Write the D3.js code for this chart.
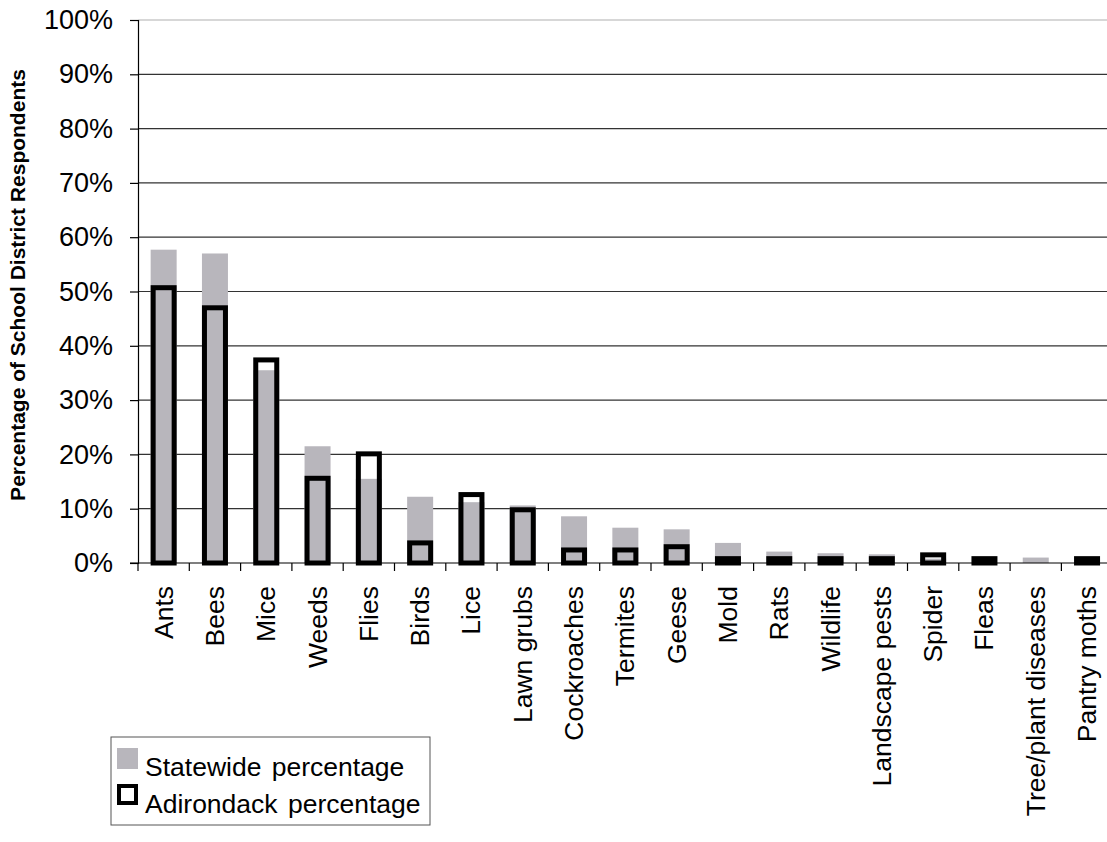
<!DOCTYPE html>
<html>
<head>
<meta charset="utf-8">
<script src="https://cdn.jsdelivr.net/npm/d3@7"></script>
<style>
  body { margin: 0; background: #fff; }
  text { font-family: "Liberation Sans", Arial, sans-serif; }
</style>
</head>
<body>
<div id="chart"></div>
<script>
var categories = ["Ants", "Bees", "Mice", "Weeds", "Flies", "Birds", "Lice", "Lawn grubs",
  "Cockroaches", "Termites", "Geese", "Mold", "Rats", "Wildlife", "Landscape pests",
  "Spider", "Fleas", "Tree/plant diseases", "Pantry moths"];
var statewide = [57.7, 57.0, 35.5, 21.5, 15.5, 12.2, 11.2, 10.6, 8.6, 6.5, 6.2, 3.7, 2.1, 1.8, 1.6, 0.8, 0, 1.0, 0];
var adirondack = [50.7, 47.0, 37.4, 15.6, 20.1, 3.7, 12.6, 9.8, 2.4, 2.4, 3.0, 0.8, 0.8, 0.8, 0.8, 1.5, 0.8, 0, 0.8];
var yTicks = [0, 10, 20, 30, 40, 50, 60, 70, 80, 90, 100];
var legendLabels = ["Statewide percentage", "Adirondack percentage"];

var W = 1107, H = 842;
var plotLeft = 138, plotTop = 20, plotBottom = 563;

var svg = d3.select("#chart")
  .append("svg")
    .attr("width", W)
    .attr("height", H);

var x = d3.scaleBand()
  .domain(categories)
  .range([plotLeft, plotLeft + 19 * 51.3]);

var y = d3.scaleLinear()
  .domain([0, 100])
  .range([plotBottom, plotTop]);

// gridlines
svg.append("g")
  .selectAll("line")
  .data(yTicks.filter(function (d) { return d > 0; }))
  .enter()
  .append("line")
    .attr("x1", plotLeft)
    .attr("x2", W)
    .attr("y1", function (d) { return y(d); })
    .attr("y2", function (d) { return y(d); })
    .attr("stroke", function (d) { return d === 100 ? "#b0b0b0" : "#333"; })
    .attr("stroke-width", 1.2);

var bw = 26;
function cx(i) { return x(categories[i]) + x.bandwidth() / 2; }

// statewide bars
svg.append("g")
  .selectAll("rect")
  .data(statewide)
  .enter()
  .append("rect")
    .attr("x", function (d, i) { return cx(i) - bw / 2; })
    .attr("y", function (d) { return y(d); })
    .attr("width", bw)
    .attr("height", function (d) { return y(0) - y(d); })
    .attr("fill", "#b8b6bc");

// adirondack outlined bars
svg.append("g")
  .selectAll("rect")
  .data(adirondack)
  .enter()
  .append("rect")
    .attr("x", function (d, i) { return cx(i) - (bw - 5) / 2; })
    .attr("y", function (d) { return y(d); })
    .attr("width", bw - 5)
    .attr("height", function (d) { return y(0) - y(d); })
    .attr("fill", "none")
    .attr("stroke", "#000")
    .attr("stroke-width", function (d) { return d > 0 ? 5 : 0; });

// y axis
var yAxis = svg.append("g")
  .attr("transform", "translate(" + plotLeft + ",0)")
  .call(d3.axisLeft(y).tickValues(yTicks).tickSize(8).tickPadding(17)
    .tickFormat(function (d) { return d + "%"; }));
yAxis.select(".domain").attr("stroke", "#000").attr("stroke-width", 1.2);
yAxis.selectAll(".tick line").attr("stroke", "#000").attr("stroke-width", 1.2);
yAxis.selectAll(".tick text")
  .attr("font-size", 27)
  .attr("font-family", "Liberation Sans, Arial, sans-serif")
  .attr("fill", "#000");

// x axis baseline + ticks at band edges
var xAxis = svg.append("g");
xAxis.append("line")
  .attr("x1", plotLeft - 8)
  .attr("x2", W)
  .attr("y1", y(0))
  .attr("y2", y(0))
  .attr("stroke", "#000")
  .attr("stroke-width", 1.2);
xAxis.selectAll(".xt")
  .data(categories)
  .enter()
  .append("line")
    .attr("x1", function (d) { return x(d); })
    .attr("x2", function (d) { return x(d); })
    .attr("y1", y(0))
    .attr("y2", y(0) + 8)
    .attr("stroke", "#000")
    .attr("stroke-width", 1.2);
xAxis.selectAll(".xl")
  .data(categories)
  .enter()
  .append("text")
    .attr("transform", function (d) {
      return "translate(" + (x(d) + x.bandwidth() / 2 + 9) + "," + 586 + ") rotate(-90)";
    })
    .attr("text-anchor", "end")
    .attr("font-size", 26.5)
    .attr("fill", "#000")
    .text(function (d) { return d; });

// y title
svg.append("text")
  .attr("transform", "translate(25,285) rotate(-90)")
  .attr("text-anchor", "middle")
  .attr("font-size", 21)
  .attr("font-weight", "bold")
  .attr("fill", "#000")
  .text("Percentage of School District Respondents");

// legend
var lg = svg.append("g");
lg.append("rect")
  .attr("x", 111).attr("y", 737)
  .attr("width", 319).attr("height", 88)
  .attr("fill", "#fff")
  .attr("stroke", "#555")
  .attr("stroke-width", 1);
lg.append("rect")
  .attr("x", 117).attr("y", 748)
  .attr("width", 21).attr("height", 21)
  .attr("fill", "#b8b6bc");
lg.append("rect")
  .attr("x", 119).attr("y", 786)
  .attr("width", 17).attr("height", 17)
  .attr("fill", "#fff")
  .attr("stroke", "#000")
  .attr("stroke-width", 4);
lg.selectAll(".lt")
  .data(legendLabels)
  .enter()
  .append("text")
    .attr("x", 145)
    .attr("y", function (d, i) { return 776 + i * 37; })
    .attr("font-size", 26.5)
    .attr("word-spacing", 3)
    .attr("fill", "#000")
    .text(function (d) { return d; });
</script>
</body>
</html>
